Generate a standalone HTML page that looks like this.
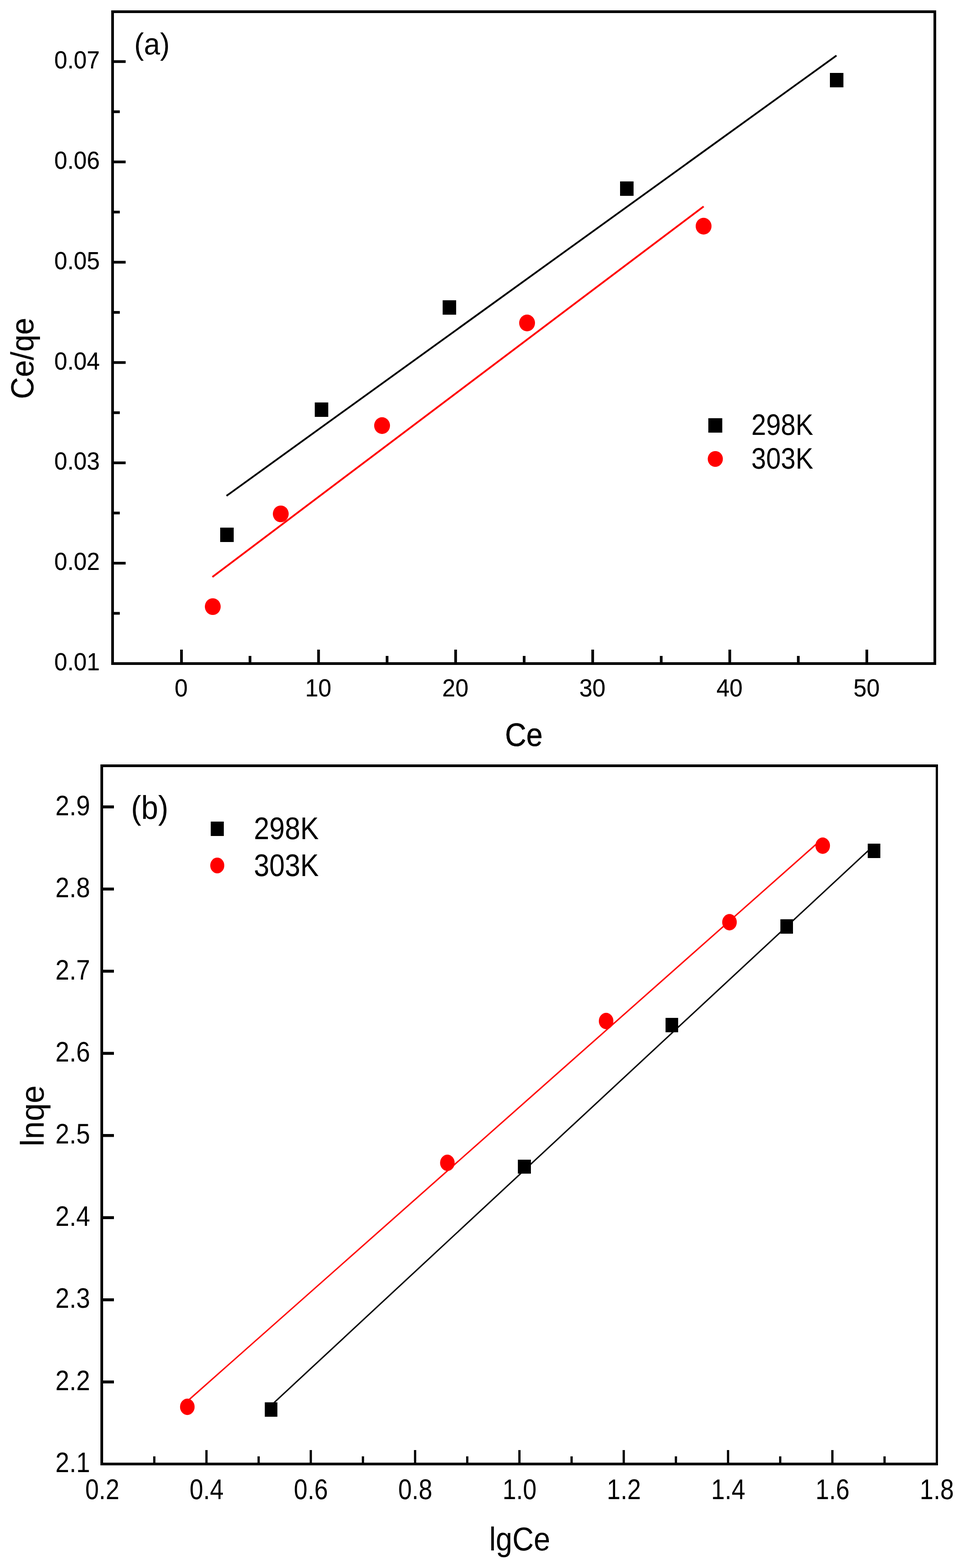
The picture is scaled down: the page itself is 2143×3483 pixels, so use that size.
<!DOCTYPE html>
<html><head><meta charset="utf-8"><title>Isotherm plots</title>
<style>
html,body{margin:0;padding:0;background:#fff;}
body{width:2143px;height:3483px;overflow:hidden;}
svg{display:block;}
text{font-family:"Liberation Sans",Arial,sans-serif;font-size:100.0px;fill:#000;stroke:#000;stroke-linejoin:round;text-rendering:geometricPrecision;}
</style></head>
<body>
<svg width="2143" height="3483" viewBox="0 0 2143 3483">
<rect x="0" y="0" width="2143" height="3483" fill="#fff"/>
<line x1="503.00" y1="1101.40" x2="1857.60" y2="123.40" stroke="#000" stroke-width="3.9"/>
<line x1="471.70" y1="1281.60" x2="1562.60" y2="458.60" stroke="#f00" stroke-width="4.0"/>
<rect x="489.00" y="1172.00" width="30.00" height="32.00" fill="#000"/>
<rect x="699.00" y="894.00" width="30.00" height="32.00" fill="#000"/>
<rect x="983.00" y="667.00" width="30.00" height="32.00" fill="#000"/>
<rect x="1377.00" y="403.00" width="30.00" height="32.00" fill="#000"/>
<rect x="1843.00" y="162.00" width="30.00" height="32.00" fill="#000"/>
<ellipse cx="472.50" cy="1347.50" rx="17.60" ry="18.60" fill="#f00"/>
<ellipse cx="623.50" cy="1141.50" rx="17.60" ry="18.60" fill="#f00"/>
<ellipse cx="848.50" cy="945.40" rx="17.60" ry="18.60" fill="#f00"/>
<ellipse cx="1170.50" cy="717.40" rx="17.60" ry="18.60" fill="#f00"/>
<ellipse cx="1562.50" cy="502.40" rx="17.60" ry="18.60" fill="#f00"/>
<rect x="247.00" y="23.00" width="1832.00" height="6.00" fill="#000"/>
<rect x="247.00" y="1471.00" width="1832.00" height="6.00" fill="#000"/>
<rect x="247.00" y="23.00" width="6.00" height="1454.00" fill="#000"/>
<rect x="2073.00" y="23.00" width="6.00" height="1454.00" fill="#000"/>
<rect x="253.00" y="1247.97" width="26.00" height="6.00" fill="#000"/>
<rect x="253.00" y="1025.13" width="26.00" height="6.00" fill="#000"/>
<rect x="253.00" y="802.30" width="26.00" height="6.00" fill="#000"/>
<rect x="253.00" y="579.47" width="26.00" height="6.00" fill="#000"/>
<rect x="253.00" y="356.63" width="26.00" height="6.00" fill="#000"/>
<rect x="253.00" y="133.80" width="26.00" height="6.00" fill="#000"/>
<rect x="253.00" y="1359.38" width="13.00" height="6.00" fill="#000"/>
<rect x="253.00" y="1136.55" width="13.00" height="6.00" fill="#000"/>
<rect x="253.00" y="913.72" width="13.00" height="6.00" fill="#000"/>
<rect x="253.00" y="690.88" width="13.00" height="6.00" fill="#000"/>
<rect x="253.00" y="468.05" width="13.00" height="6.00" fill="#000"/>
<rect x="253.00" y="245.22" width="13.00" height="6.00" fill="#000"/>
<rect x="400.00" y="1443.00" width="6.00" height="28.00" fill="#000"/>
<rect x="704.40" y="1443.00" width="6.00" height="28.00" fill="#000"/>
<rect x="1008.80" y="1443.00" width="6.00" height="28.00" fill="#000"/>
<rect x="1313.20" y="1443.00" width="6.00" height="28.00" fill="#000"/>
<rect x="1617.60" y="1443.00" width="6.00" height="28.00" fill="#000"/>
<rect x="1922.00" y="1443.00" width="6.00" height="28.00" fill="#000"/>
<rect x="552.20" y="1457.00" width="6.00" height="14.00" fill="#000"/>
<rect x="856.60" y="1457.00" width="6.00" height="14.00" fill="#000"/>
<rect x="1161.00" y="1457.00" width="6.00" height="14.00" fill="#000"/>
<rect x="1465.40" y="1457.00" width="6.00" height="14.00" fill="#000"/>
<rect x="1769.80" y="1457.00" width="6.00" height="14.00" fill="#000"/>
<text text-anchor="end" stroke-width="0.373" transform="matrix(0.51900 0 0 0.55200 221.60 1489.00)">0.01</text>
<text text-anchor="end" stroke-width="0.373" transform="matrix(0.51900 0 0 0.55200 221.60 1266.17)">0.02</text>
<text text-anchor="end" stroke-width="0.373" transform="matrix(0.51900 0 0 0.55200 221.60 1043.33)">0.03</text>
<text text-anchor="end" stroke-width="0.373" transform="matrix(0.51900 0 0 0.55200 221.60 820.50)">0.04</text>
<text text-anchor="end" stroke-width="0.373" transform="matrix(0.51900 0 0 0.55200 221.60 597.67)">0.05</text>
<text text-anchor="end" stroke-width="0.373" transform="matrix(0.51900 0 0 0.55200 221.60 374.83)">0.06</text>
<text text-anchor="end" stroke-width="0.373" transform="matrix(0.51900 0 0 0.55200 221.60 152.00)">0.07</text>
<text text-anchor="middle" stroke-width="0.372" transform="matrix(0.52300 0 0 0.55200 402.40 1547.35)">0</text>
<text text-anchor="middle" stroke-width="0.372" transform="matrix(0.52300 0 0 0.55200 706.80 1547.35)">10</text>
<text text-anchor="middle" stroke-width="0.372" transform="matrix(0.52300 0 0 0.55200 1011.20 1547.35)">20</text>
<text text-anchor="middle" stroke-width="0.372" transform="matrix(0.52300 0 0 0.55200 1315.60 1547.35)">30</text>
<text text-anchor="middle" stroke-width="0.372" transform="matrix(0.52300 0 0 0.55200 1620.00 1547.35)">40</text>
<text text-anchor="middle" stroke-width="0.372" transform="matrix(0.52300 0 0 0.55200 1924.40 1547.35)">50</text>
<text stroke-width="0.000" transform="matrix(0.64481 0 0 0.67489 298.10 120.83)">(a)</text>
<text stroke-width="0.872" transform="matrix(0.65342 0 0 0.72316 1121.47 1657.38)">Ce</text>
<text stroke-width="0.434" transform="translate(74.21 886.45) rotate(-90) scale(0.67703 0.70640)">Ce/qe</text>
<rect x="1573.00" y="929.00" width="31.00" height="32.00" fill="#000"/>
<ellipse cx="1588.50" cy="1019.50" rx="16.80" ry="17.60" fill="#f00"/>
<text text-anchor="start" stroke-width="0.000" transform="matrix(0.58900 0 0 0.65700 1668.40 966.10)">298K</text>
<text text-anchor="start" stroke-width="0.000" transform="matrix(0.58900 0 0 0.65700 1668.40 1041.10)">303K</text>
<line x1="602.00" y1="3121.80" x2="1941.00" y2="1877.60" stroke="#000" stroke-width="3.1"/>
<line x1="416.00" y1="3112.50" x2="1827.00" y2="1862.50" stroke="#f00" stroke-width="3.1"/>
<rect x="588.00" y="3115.00" width="28.00" height="32.00" fill="#000"/>
<rect x="1150.00" y="2576.00" width="29.00" height="31.00" fill="#000"/>
<rect x="1478.00" y="2261.00" width="28.00" height="32.00" fill="#000"/>
<rect x="1733.00" y="2042.00" width="28.00" height="32.00" fill="#000"/>
<rect x="1927.00" y="1874.00" width="28.00" height="32.00" fill="#000"/>
<ellipse cx="416.00" cy="3125.00" rx="16.20" ry="18.20" fill="#f00"/>
<ellipse cx="993.50" cy="2583.00" rx="16.20" ry="18.20" fill="#f00"/>
<ellipse cx="1346.00" cy="2268.00" rx="16.20" ry="18.20" fill="#f00"/>
<ellipse cx="1620.00" cy="2048.50" rx="16.20" ry="18.20" fill="#f00"/>
<ellipse cx="1827.00" cy="1878.50" rx="16.20" ry="18.20" fill="#f00"/>
<rect x="223.00" y="1698.00" width="1860.00" height="6.00" fill="#000"/>
<rect x="223.00" y="3249.00" width="1860.00" height="6.00" fill="#000"/>
<rect x="223.00" y="1698.00" width="6.00" height="1557.00" fill="#000"/>
<rect x="2078.00" y="1698.00" width="5.00" height="1557.00" fill="#000"/>
<rect x="229.00" y="3066.47" width="24.00" height="6.50" fill="#000"/>
<rect x="229.00" y="2883.99" width="24.00" height="6.50" fill="#000"/>
<rect x="229.00" y="2701.51" width="24.00" height="6.50" fill="#000"/>
<rect x="229.00" y="2519.03" width="24.00" height="6.50" fill="#000"/>
<rect x="229.00" y="2336.55" width="24.00" height="6.50" fill="#000"/>
<rect x="229.00" y="2154.07" width="24.00" height="6.50" fill="#000"/>
<rect x="229.00" y="1971.59" width="24.00" height="6.50" fill="#000"/>
<rect x="229.00" y="1789.11" width="24.00" height="6.50" fill="#000"/>
<rect x="456.00" y="3221.00" width="5.00" height="28.00" fill="#000"/>
<rect x="687.67" y="3221.00" width="5.00" height="28.00" fill="#000"/>
<rect x="919.33" y="3221.00" width="5.00" height="28.00" fill="#000"/>
<rect x="1151.00" y="3221.00" width="5.00" height="28.00" fill="#000"/>
<rect x="1382.66" y="3221.00" width="5.00" height="28.00" fill="#000"/>
<rect x="1614.33" y="3221.00" width="5.00" height="28.00" fill="#000"/>
<rect x="1846.00" y="3221.00" width="5.00" height="28.00" fill="#000"/>
<rect x="340.17" y="3235.00" width="5.00" height="14.00" fill="#000"/>
<rect x="571.83" y="3235.00" width="5.00" height="14.00" fill="#000"/>
<rect x="803.50" y="3235.00" width="5.00" height="14.00" fill="#000"/>
<rect x="1035.16" y="3235.00" width="5.00" height="14.00" fill="#000"/>
<rect x="1266.83" y="3235.00" width="5.00" height="14.00" fill="#000"/>
<rect x="1498.50" y="3235.00" width="5.00" height="14.00" fill="#000"/>
<rect x="1730.16" y="3235.00" width="5.00" height="14.00" fill="#000"/>
<rect x="1961.83" y="3235.00" width="5.00" height="14.00" fill="#000"/>
<text text-anchor="end" stroke-width="0.000" transform="matrix(0.55500 0 0 0.62800 200.20 3270.40)">2.1</text>
<text text-anchor="end" stroke-width="0.000" transform="matrix(0.55500 0 0 0.62800 200.20 3087.92)">2.2</text>
<text text-anchor="end" stroke-width="0.000" transform="matrix(0.55500 0 0 0.62800 200.20 2905.44)">2.3</text>
<text text-anchor="end" stroke-width="0.000" transform="matrix(0.55500 0 0 0.62800 200.20 2722.96)">2.4</text>
<text text-anchor="end" stroke-width="0.000" transform="matrix(0.55500 0 0 0.62800 200.20 2540.48)">2.5</text>
<text text-anchor="end" stroke-width="0.000" transform="matrix(0.55500 0 0 0.62800 200.20 2358.00)">2.6</text>
<text text-anchor="end" stroke-width="0.000" transform="matrix(0.55500 0 0 0.62800 200.20 2175.52)">2.7</text>
<text text-anchor="end" stroke-width="0.000" transform="matrix(0.55500 0 0 0.62800 200.20 1993.04)">2.8</text>
<text text-anchor="end" stroke-width="0.000" transform="matrix(0.55500 0 0 0.62800 200.20 1810.56)">2.9</text>
<text text-anchor="middle" stroke-width="0.000" transform="matrix(0.54500 0 0 0.63400 227.13 3330.30)">0.2</text>
<text text-anchor="middle" stroke-width="0.000" transform="matrix(0.54500 0 0 0.63400 458.80 3330.30)">0.4</text>
<text text-anchor="middle" stroke-width="0.000" transform="matrix(0.54500 0 0 0.63400 690.47 3330.30)">0.6</text>
<text text-anchor="middle" stroke-width="0.000" transform="matrix(0.54500 0 0 0.63400 922.13 3330.30)">0.8</text>
<text text-anchor="middle" stroke-width="0.000" transform="matrix(0.54500 0 0 0.63400 1153.80 3330.30)">1.0</text>
<text text-anchor="middle" stroke-width="0.000" transform="matrix(0.54500 0 0 0.63400 1385.46 3330.30)">1.2</text>
<text text-anchor="middle" stroke-width="0.000" transform="matrix(0.54500 0 0 0.63400 1617.13 3330.30)">1.4</text>
<text text-anchor="middle" stroke-width="0.000" transform="matrix(0.54500 0 0 0.63400 1848.80 3330.30)">1.6</text>
<text text-anchor="middle" stroke-width="0.000" transform="matrix(0.54500 0 0 0.63400 2080.46 3330.30)">1.8</text>
<text stroke-width="0.000" transform="matrix(0.67851 0 0 0.73069 290.89 1818.57)">(b)</text>
<text stroke-width="0.000" transform="matrix(0.65879 0 0 0.73419 1086.39 3444.43)">lgCe</text>
<text stroke-width="0.000" transform="translate(96.90 2546.51) rotate(-90) scale(0.71838 0.73098)">lnqe</text>
<rect x="468.00" y="1825.00" width="29.00" height="32.00" fill="#000"/>
<ellipse cx="482.50" cy="1922.50" rx="15.60" ry="17.50" fill="#f00"/>
<text text-anchor="start" stroke-width="0.000" transform="matrix(0.61700 0 0 0.69600 563.81 1863.90)">298K</text>
<text text-anchor="start" stroke-width="0.000" transform="matrix(0.61700 0 0 0.69600 563.81 1945.90)">303K</text>
</svg>
</body></html>
